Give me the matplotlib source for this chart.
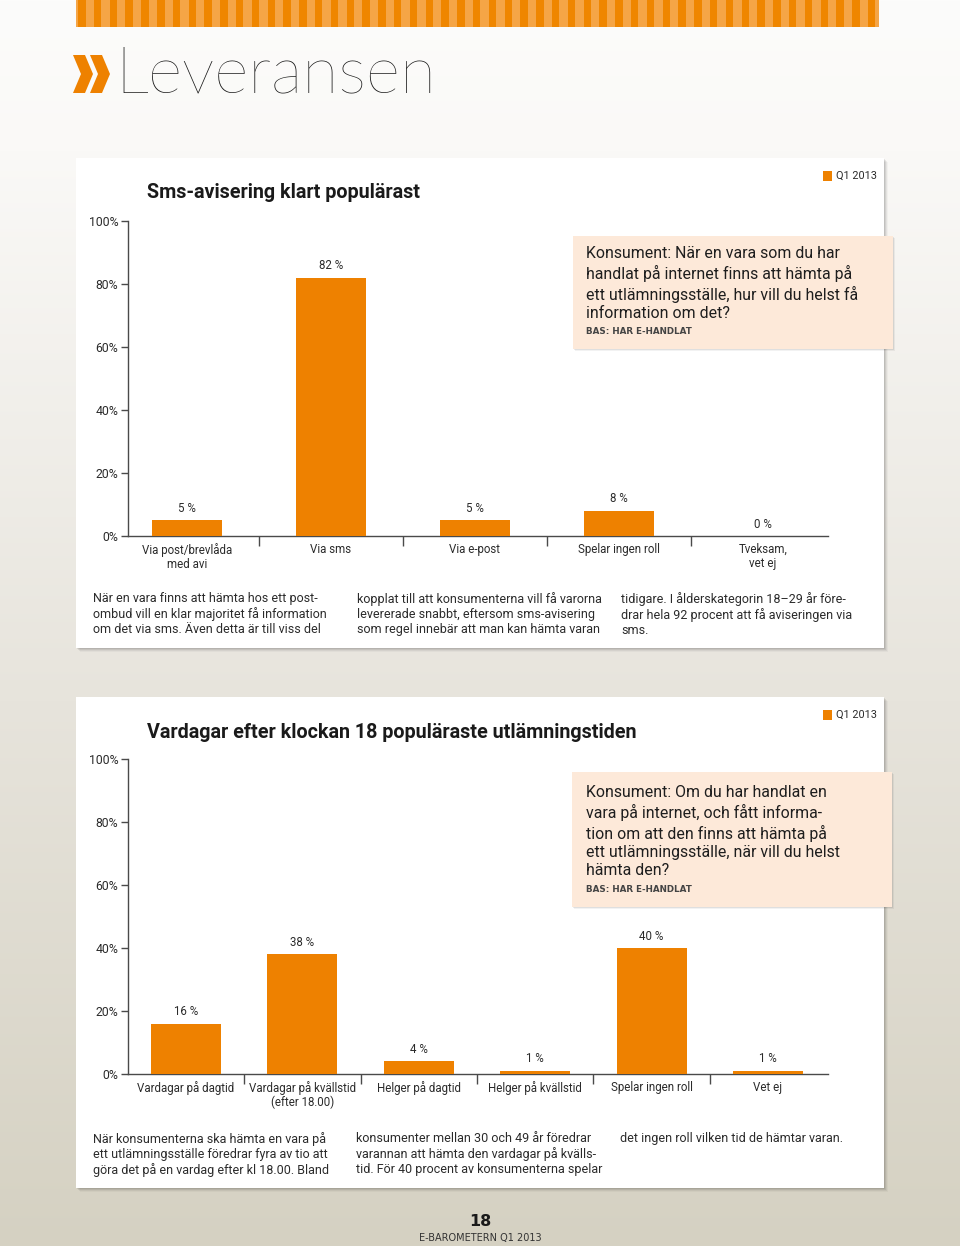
import matplotlib
matplotlib.use("Agg")
import matplotlib.pyplot as plt
import numpy as np
from matplotlib.patches import Rectangle, Polygon
from matplotlib import font_manager as fm

# ---------------- data ----------------
cats1 = ["Via post/brevlåda\nmed avi", "Via sms", "Via e-post", "Spelar ingen roll", "Tveksam,\nvet ej"]
vals1 = [5, 82, 5, 8, 0]
cats2 = ["Vardagar på dagtid", "Vardagar på kvällstid\n(efter 18.00)", "Helger på dagtid",
         "Helger på kvällstid", "Spelar ingen roll", "Vet ej"]
vals2 = [16, 38, 4, 1, 40, 1]
yticks = [0, 20, 40, 60, 80, 100]
ytick_labels = ["0%", "20%", "40%", "60%", "80%", "100%"]
legend_label = "Q1 2013"
title1 = "Sms-avisering klart populärast"
title2 = "Vardagar efter klockan 18 populäraste utlämningstiden"
question1 = ("Konsument: När en vara som du har\nhandlat på internet finns att hämta på\n"
             "ett utlämningsställe, hur vill du helst få\ninformation om det?")
question2 = ("Konsument: Om du har handlat en\nvara på internet, och fått informa-\n"
             "tion om att den finns att hämta på\nett utlämningsställe, när vill du helst\nhämta den?")
bas_text = "BAS: HAR E-HANDLAT"
para1 = ["När en vara finns att hämta hos ett post-\nombud vill en klar majoritet få information\nom det via sms. Även detta är till viss del",
         "kopplat till att konsumenterna vill få varorna\nlevererade snabbt, eftersom sms-avisering\nsom regel innebär att man kan hämta varan",
         "tidigare. I ålderskategorin 18–29 år före-\ndrar hela 92 procent att få aviseringen via\nsms."]
para2 = ["När konsumenterna ska hämta en vara på\nett utlämningsställe föredrar fyra av tio att\ngöra det på en vardag efter kl 18.00. Bland",
         "konsumenter mellan 30 och 49 år föredrar\nvarannan att hämta den vardagar på kvälls-\ntid. För 40 procent av konsumenterna spelar",
         "det ingen roll vilken tid de hämtar varan."]

ORANGE = "#ee8100"
TXT = "#2b2b2b"

def have(name):
    try:
        fm.findfont(fm.FontProperties(family=name), fallback_to_default=False)
        return True
    except Exception:
        return False

NARROW = "Liberation Sans Narrow" if have("Liberation Sans Narrow") else "Roboto"
COND = [NARROW, "DejaVu Sans"]
LIGHT = ["Lato", "Roboto", "DejaVu Sans"]

W, H = 960, 1246
fig = plt.figure(figsize=(W / 100, H / 100), dpi=100)

bg = fig.add_axes([0, 0, 1, 1])
bg.set_xlim(0, W)
bg.set_ylim(H, 0)
bg.axis("off")

# background gradient
ys = np.array([0, 150, 700, 1246])
cols = np.array([[252, 252, 251], [250, 249, 247], [231, 228, 220], [213, 209, 194]]) / 255.0
yy = np.arange(H)
grad = np.stack([np.interp(yy, ys, cols[:, c]) for c in range(3)], axis=-1)[:, None, :]
bg.imshow(grad, extent=(0, W, H, 0), aspect="auto", zorder=0)

# top stripes
bg.add_patch(Rectangle((76, 0), 803, 27, color="#f5a546", lw=0, zorder=1))
for x in np.arange(78, 876, 15.8):
    bg.add_patch(Rectangle((x, 0), 7.5, 27, color="#ef8600", lw=0, zorder=1))

# chevrons
for dx in (0, 17):
    pts = [(73 + dx, 55), (85 + dx, 55), (93 + dx, 74), (85 + dx, 93), (73 + dx, 93), (81 + dx, 74)]
    bg.add_patch(Polygon(pts, closed=True, color=ORANGE, lw=0, zorder=2))
bg.text(115, 75, "Leveransen", family=LIGHT, weight="light", fontsize=47.5, color="#1c1c1c",
        va="center", ha="left", zorder=2)

def panel(x0, y0, x1, y1):
    for k, a in [(7, 0.03), (5, 0.05), (3, 0.07), (1.5, 0.08)]:
        bg.add_patch(Rectangle((x0 + k * 0.6, y0 + k * 0.6), x1 - x0, y1 - y0, color="black",
                               alpha=a, lw=0, zorder=2))
    bg.add_patch(Rectangle((x0, y0), x1 - x0, y1 - y0, color="white", lw=0, zorder=3))

def qbox(x0, y0, x1, y1):
    for k, a in [(4, 0.05), (2, 0.08)]:
        bg.add_patch(Rectangle((x0 + k * 0.6, y0 + k * 0.6), x1 - x0, y1 - y0, color="black",
                               alpha=a, lw=0, zorder=4))
    bg.add_patch(Rectangle((x0, y0), x1 - x0, y1 - y0, color="#fde9d9", lw=0, zorder=5))

panel(76, 158, 884, 648)
panel(76, 697, 884, 1188)
qbox(573, 236, 893, 349)
qbox(572, 772, 892, 907)

# titles and legend
bg.text(147, 193, title1, family=COND, weight="bold", fontsize=14.2, color="#1a1a1a", va="center", zorder=6)
bg.text(147, 732, title2, family=COND, weight="bold", fontsize=14.2, color="#1a1a1a", va="center", zorder=6)
for ly in (176, 715):
    bg.add_patch(Rectangle((823, ly - 5), 9, 10, color=ORANGE, lw=0, zorder=6))
    bg.text(836, ly, legend_label, family=COND, fontsize=7.8, color=TXT, va="center", zorder=6)

# question texts
bg.text(586, 246, question1, family=COND, fontsize=11.4, color="#1e1e1e", va="top",
        ha="left", linespacing=1.27, zorder=6)
bg.text(586, 331, bas_text, family="DejaVu Sans", weight="bold", fontsize=6.3, color="#444444",
        va="center", zorder=6)
bg.text(586, 785, question2, family=COND, fontsize=11.4, color="#1e1e1e", va="top",
        ha="left", linespacing=1.27, zorder=6)
bg.text(586, 890, bas_text, family="DejaVu Sans", weight="bold", fontsize=6.3, color="#444444",
        va="center", zorder=6)

# paragraphs
for xs, txts, y0 in (((93, 357, 621), para1, 592), ((93, 356, 620), para2, 1132)):
    for x, t in zip(xs, txts):
        bg.text(x, y0, t, family=COND, fontsize=9, color=TXT, va="top", ha="left",
                linespacing=1.18, zorder=6)

# footer
bg.text(480, 1221, "18", family="DejaVu Sans", weight="bold", fontsize=11.5, color="#1a1a1a",
        ha="center", va="center", zorder=6)
bg.text(480, 1238, "E-BAROMETERN Q1 2013", family="DejaVu Sans", fontsize=7, color="#333333",
        ha="center", va="center", zorder=6)

def bar_axes(y_bottom, y_top, cats, vals, first_center, spacing):
    ax = fig.add_axes([128 / W, 1 - y_bottom / H, 700 / W, (y_bottom - y_top) / H], zorder=10)
    ax.patch.set_alpha(0)
    n = len(cats)
    x = np.arange(n)
    ax.bar(x, vals, width=70 / spacing, color=ORANGE, zorder=3)
    ax.set_xlim((128 - first_center) / spacing, (828 - first_center) / spacing)
    ax.set_ylim(0, 100)
    for s in ("top", "right"):
        ax.spines[s].set_visible(False)
    for s in ("left", "bottom"):
        ax.spines[s].set_color("#4a4a4a")
        ax.spines[s].set_linewidth(1)
    ax.set_yticks(yticks)
    ax.set_yticklabels(ytick_labels, family=COND, fontsize=8.8, color=TXT)
    ax.tick_params(axis="y", length=5, width=1, color="#4a4a4a", pad=2)
    ax.set_xticks(x)
    ax.set_xticklabels(cats, family=COND, fontsize=8.3, color=TXT, linespacing=1.1)
    ax.tick_params(axis="x", which="major", length=0, pad=5)
    ax.set_xticks(x[:-1] + 0.5, minor=True)
    ax.tick_params(axis="x", which="minor", length=7, width=1, color="#4a4a4a", direction="out")
    for xi, v in zip(x, vals):
        ax.annotate(f"{v} %", (xi, v), xytext=(0, 8.6), textcoords="offset points",
                    ha="center", va="center", family=COND, fontsize=8.3, color=TXT)
    return ax

bar_axes(536, 221, cats1, vals1, 187, 144)
bar_axes(1074, 759, cats2, vals2, 186, 116.4)

fig.savefig("out.png", dpi=100)
